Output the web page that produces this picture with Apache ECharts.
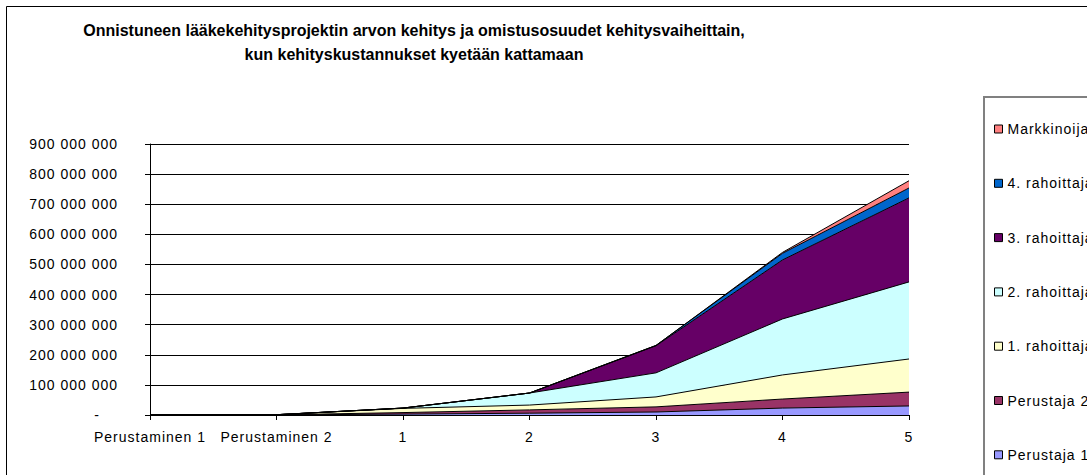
<!DOCTYPE html>
<html>
<head>
<meta charset="utf-8">
<script src="https://cdn.jsdelivr.net/npm/echarts@6/dist/echarts.min.js"></script>
<style>
html,body{margin:0;padding:0;background:#fff;overflow:hidden;}
#chart{width:1087px;height:475px;}
#chart text{letter-spacing:1px;}
#chart text[style*="bold"]{letter-spacing:0;}
</style>
</head>
<body>
<div id="chart"></div>
<script>
const titleLines = ['Onnistuneen lääkekehitysprojektin arvon kehitys ja omistusosuudet kehitysvaiheittain,', 'kun kehityskustannukset kyetään kattamaan'];
const categories = ['Perustaminen 1', 'Perustaminen 2', '1', '2', '3', '4', '5'];
const seriesNames = ['Perustaja 1', 'Perustaja 2', '1. rahoittaja', '2. rahoittaja', '3. rahoittaja', '4. rahoittaja', 'Markkinoija'];
const seriesColors = ['#9999FF', '#993366', '#FFFFCC', '#CCFFFF', '#660066', '#0066CC', '#FF8080'];
const perustaja1 = [0, 300000, 3000000, 6000000, 10000000, 23000000, 30000000];
const perustaja2 = [0, 300000, 5000000, 11000000, 17000000, 30000000, 46000000];
const rahoittaja1 = [0, 400000, 14000000, 16000000, 33000000, 80000000, 110000000];
const rahoittaja2 = [0, 0, 1000000, 40000000, 80000000, 186000000, 256000000];
const rahoittaja3 = [0, 0, 0, 0, 90000000, 196000000, 279000000];
const rahoittaja4 = [0, 0, 0, 0, 1000000, 22000000, 33000000];
const markkinoija = [0, 0, 0, 0, 0, 3000000, 24000000];
const yMax = 900000000;
const yStep = 100000000;

const seriesData = [perustaja1, perustaja2, rahoittaja1, rahoittaja2, rahoittaja3, rahoittaja4, markkinoija];

function fmt(v) {
  if (v === 0) return '{z|-}';
  return String(Math.round(v)).replace(/\B(?=(\d{3})+(?!\d))/g, ' ');
}

const chart = echarts.init(document.getElementById('chart'), null, {renderer: 'svg'});
const FONT = '"Liberation Sans", Arial, sans-serif';

chart.setOption({
  animation: false,
  backgroundColor: '#fff',
  textStyle: {fontFamily: FONT},
  graphic: [
    {type: 'rect', z: -10, silent: true,
     shape: {x: 6.5, y: 6.5, width: 1200, height: 600},
     style: {fill: 'none', stroke: '#000', lineWidth: 1}},
    {type: 'rect', z: -5, silent: true,
     shape: {x: 984, y: 97, width: 300, height: 500},
     style: {fill: '#fff', stroke: '#808080', lineWidth: 2}},
    {type: 'text', x: 414, y: 18, silent: true,
     style: {text: titleLines.join('\n'), font: 'bold 16px ' + FONT, fill: '#000',
             textAlign: 'center', lineHeight: 24}}
  ],
  grid: {left: 150, right: 178, top: 144, bottom: 60, containLabel: false},
  xAxis: {
    type: 'category',
    data: categories,
    boundaryGap: false,
    axisLine: {lineStyle: {color: '#000', width: 1}},
    axisTick: {show: true, length: 5, lineStyle: {color: '#000'}},
    axisLabel: {color: '#000', fontSize: 14, margin: 15, fontFamily: FONT, interval: 0},
    splitLine: {show: false}
  },
  yAxis: {
    type: 'value',
    min: 0,
    max: yMax,
    interval: yStep,
    axisLine: {show: true, lineStyle: {color: '#000', width: 1}},
    axisTick: {show: true, length: 5, lineStyle: {color: '#000'}},
    axisLabel: {color: '#000', fontSize: 14, margin: 32, fontFamily: FONT, formatter: fmt,
                rich: {z: {fontSize: 14, fontFamily: FONT, color: '#000', padding: [0, 18, 0, 0]}}},
    splitLine: {show: true, lineStyle: {color: '#000', width: 1}}
  },
  legend: {
    orient: 'vertical',
    left: 989,
    top: 116,
    icon: 'rect',
    itemWidth: 8,
    itemHeight: 8,
    itemGap: 38.3,
    data: seriesNames.slice().reverse(),
    itemStyle: {borderColor: '#000', borderWidth: 1},
    textStyle: {color: '#000', fontSize: 14, fontFamily: FONT, lineHeight: 16}
  },
  series: seriesNames.map((name, i) => ({
    name: name,
    type: 'line',
    stack: 'total',
    data: seriesData[i],
    symbol: 'none',
    smooth: false,
    itemStyle: {color: seriesColors[i]},
    lineStyle: {color: '#000', width: 1},
    areaStyle: {color: seriesColors[i], opacity: 1}
  }))
});
</script>
</body>
</html>
